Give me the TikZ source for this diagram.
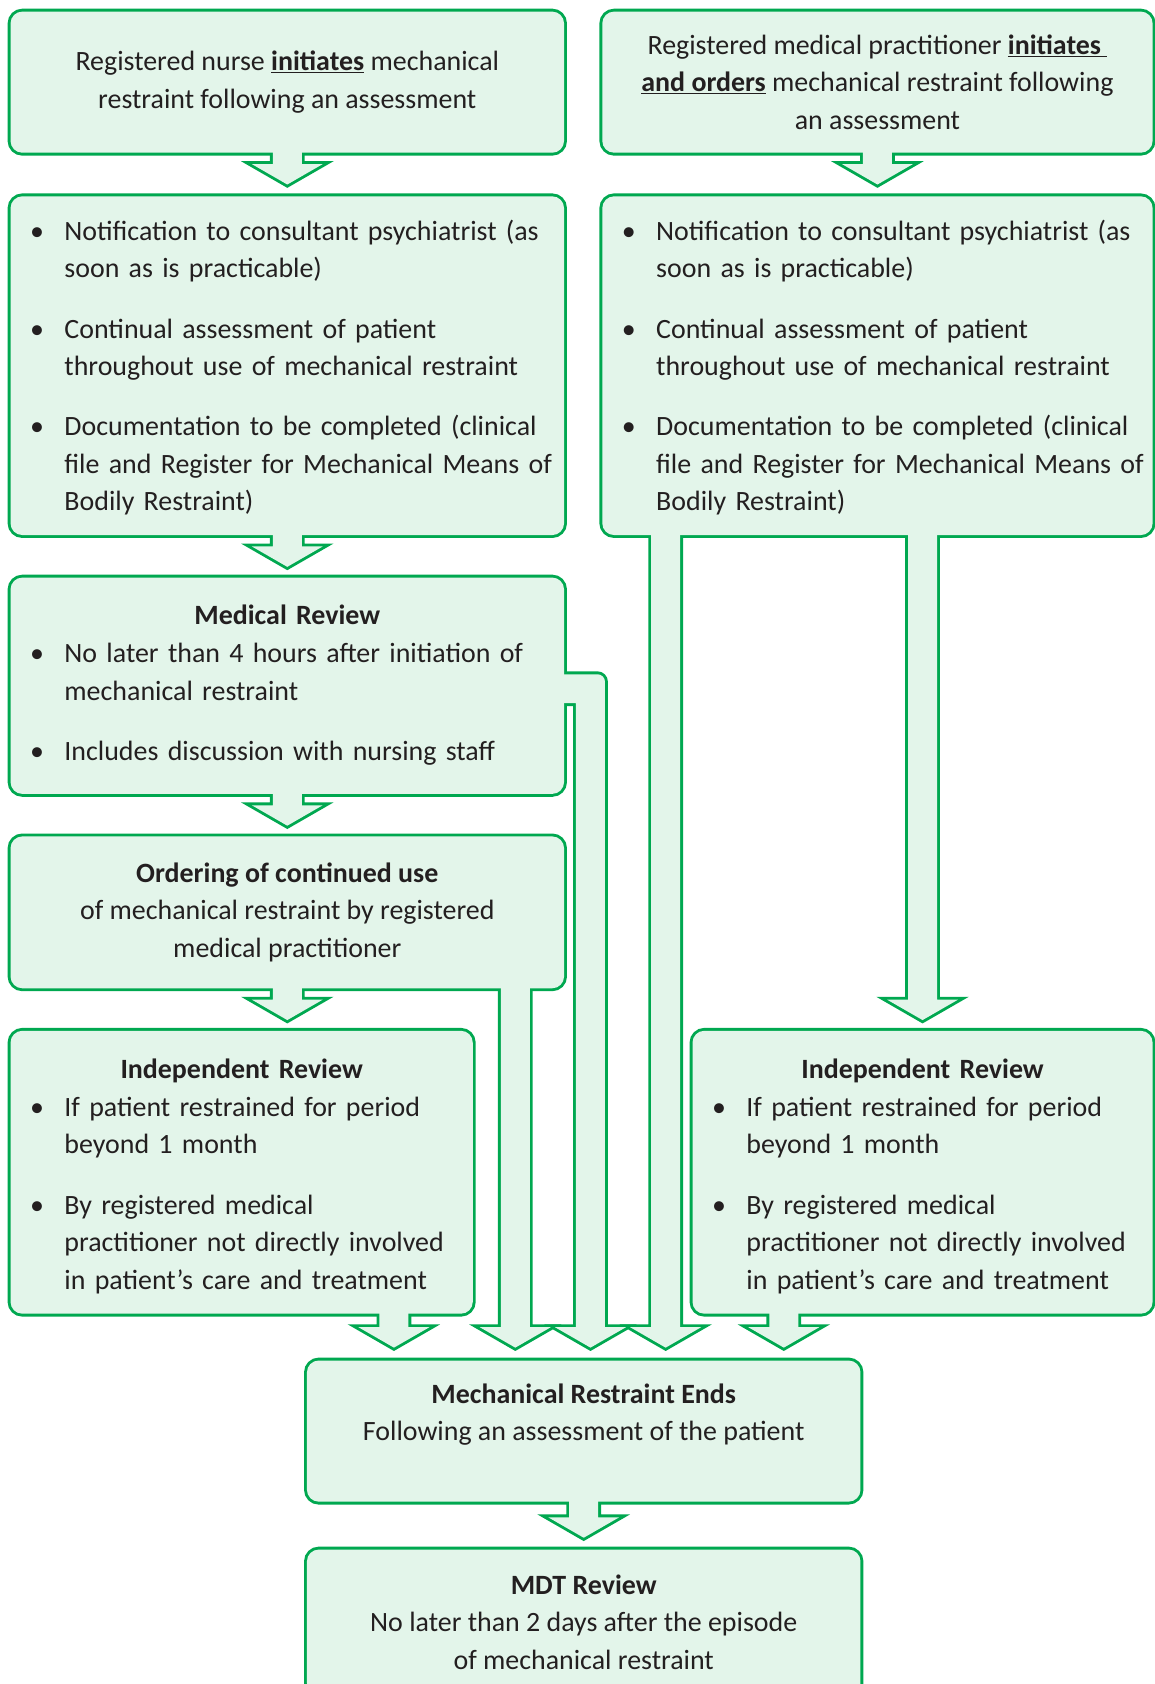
\documentclass[tikz,border=0pt]{standalone}
\usepackage{fontspec}
\setmainfont{Carlito}
\usetikzlibrary{calc}

\definecolor{boxline}{RGB}{0,168,80}
\definecolor{boxfill}{RGB}{227,245,234}
\definecolor{inktext}{RGB}{35,31,32}

\pgfdeclarelayer{edge}
\pgfdeclarelayer{paint}
\pgfsetlayers{edge,paint,main}

% outline on the back layer, fill above it: touching parts merge
\newcommand{\flowpart}[1]{%
  \begin{pgfonlayer}{edge}\draw[line width=5.4pt,boxline] #1;\end{pgfonlayer}%
  \begin{pgfonlayer}{paint}\fill[boxfill] #1;\end{pgfonlayer}}
% block arrow: #1 top of stem, #2 tip
\newcommand{\flowdown}[2]{%
  \flowpart{let \p1=#1, \p2=#2 in
    (\x2-13.5pt,\y1) -- (\x2-13.5pt,\y2+19pt) -- (\x2-33pt,\y2+19pt) -- (\x2,\y2)
    -- (\x2+33pt,\y2+19pt) -- (\x2+13.5pt,\y2+19pt) -- (\x2+13.5pt,\y1) -- cycle}}
% bullet point, lines split by \\
\newcommand{\bitem}[1]{\par\noindent\hbox to 44pt{\hspace{12pt}\textbullet\hss}%
  \begin{tabular}[t]{@{}l@{}}#1\end{tabular}\par}
\newcommand{\bgap}{\vspace{20pt}}

\begin{document}
\begin{tikzpicture}[x=1pt,y=-1pt,
  flowbox/.style={inner sep=0pt,text=inktext,align=center,
    font=\fontsize{26}{35}\selectfont},
  listbox/.style={flowbox,align=left,inner xsep=6pt}]
\useasboundingbox (0,0) rectangle (1075,1568);

% top row
\node[flowbox,minimum width=515pt,minimum height=131pt] (nurse) at (267.5,76.5)
  {Registered nurse \underline{\textbf{initiates}} mechanical\\
   restraint following an assessment};
\node[flowbox,minimum width=512pt,minimum height=131pt] (doctor) at (817,76.5)
  {Registered medical practitioner \underline{\textbf{initiates}\ }\\
   \underline{\textbf{and orders}} mechanical restraint following\\
   an assessment};

% notification boxes
\node[listbox,text width=503pt,minimum height=315pt] (notifL) at (267.5,340.5)
  {\bitem{Notification to consultant psychiatrist (as\\ soon as is practicable)}
   \bgap\bitem{Continual assessment of patient\\ throughout use of mechanical restraint}
   \bgap\bitem{Documentation to be completed (clinical\\ file and Register for Mechanical Means of\\ Bodily Restraint)}
   \vspace{6pt}};
\node[listbox,text width=500pt,minimum height=315pt] (notifR) at (817,340.5)
  {\bitem{Notification to consultant psychiatrist (as\\ soon as is practicable)}
   \bgap\bitem{Continual assessment of patient\\ throughout use of mechanical restraint}
   \bgap\bitem{Documentation to be completed (clinical\\ file and Register for Mechanical Means of\\ Bodily Restraint)}
   \vspace{6pt}};

% left column
\node[listbox,text width=503pt,minimum height=201pt] (medrev) at (267.5,638.5)
  {\centerline{\textbf{Medical Review}}
   \bitem{No later than 4 hours after initiation of\\ mechanical restraint}
   \bgap\bitem{Includes discussion with nursing staff}
   \vspace{-5pt}};
\node[flowbox,minimum width=515pt,minimum height=141pt] (ordering) at (267.5,849.5)
  {\textbf{Ordering of continued use}\\
   of mechanical restraint by registered\\
   medical practitioner};
\node[listbox,text width=418pt,minimum height=263pt] (indrevL) at (225,1091.5)
  {\centerline{\textbf{Independent Review}}
   \bitem{If patient restrained for period\\ beyond 1 month}
   \bgap\bitem{By registered medical\\ practitioner not directly involved\\ in patient’s care and treatment}
   \vspace{-14pt}};
\node[listbox,text width=416pt,minimum height=263pt] (indrevR) at (859,1091.5)
  {\centerline{\textbf{Independent Review}}
   \bitem{If patient restrained for period\\ beyond 1 month}
   \bgap\bitem{By registered medical\\ practitioner not directly involved\\ in patient’s care and treatment}
   \vspace{-14pt}};

% bottom
\node[flowbox,minimum width=515pt,minimum height=131pt] (ends) at (543.5,1332.5)
  {\textbf{Mechanical Restraint Ends}\\
   Following an assessment of the patient\\ \mbox{}};
\node[flowbox,minimum width=515pt,minimum height=135pt] (mdt) at (543.5,1510.5)
  {\textbf{MDT Review}\\
   No later than 2 days after the episode\\
   of mechanical restraint};

\foreach \bx in {nurse,doctor,notifL,notifR,medrev,ordering,indrevL,indrevR,ends,mdt}
  {\flowpart{[rounded corners=11pt] (\bx.south west) rectangle (\bx.north east)}}

% arrow tips on top of the end box
\coordinate (tipL) at ($(ends.north west)+(81,-12)$);
\coordinate (tipO) at ($(ends.north west)+(194,-12)$);
\coordinate (tipM) at ($(ends.north west)+(264,-12)$);
\coordinate (tipN) at ($(ends.north west)+(334,-12)$);
\coordinate (tipR) at ($(ends.north west)+(444,-12)$);

\flowdown{($(nurse.south)+(0,-6)$)}{($(notifL.north)+(0,-11)$)}
\flowdown{($(doctor.south)+(0,-6)$)}{($(notifR.north)+(0,-11)$)}
\flowdown{($(notifL.south)+(0,-6)$)}{($(medrev.north)+(0,-10)$)}
\flowdown{($(medrev.south)+(0,-6)$)}{($(ordering.north)+(0,-10)$)}
\flowdown{($(ordering.south)+(0,-6)$)}{($(ordering.south |- indrevL.north)+(0,-10)$)}
\flowdown{($(indrevR.north |- notifR.south)+(0,-6)$)}{($(indrevR.north)+(0,-10)$)}
\flowdown{($(tipL |- indrevL.south)+(0,-6)$)}{(tipL)}
\flowdown{($(tipO |- ordering.south)+(0,-6)$)}{(tipO)}
\flowdown{($(tipN |- notifR.south)+(0,-6)$)}{(tipN)}
\flowdown{($(tipR |- indrevR.south)+(0,-6)$)}{(tipR)}
\flowdown{($(ends.south)+(0,-6)$)}{($(mdt.north)+(0,-11)$)}

% medical review leaves from its right side
\coordinate (mrTop) at ($(medrev.north east)+(0,90)$);
\coordinate (mrBot) at ($(medrev.north east)+(0,117)$);
\flowpart{let \p1=(mrTop), \p2=(mrBot), \p3=(tipM) in
  (\x1-10pt,\y1) -- (\x3+6.5pt,\y1) arc (90:0:7pt) -- (\x3+13.5pt,\y3+19pt)
  -- (\x3+33pt,\y3+19pt) -- (\x3,\y3) -- (\x3-33pt,\y3+19pt)
  -- (\x3-13.5pt,\y3+19pt) -- (\x3-13.5pt,\y2) -- (\x1-10pt,\y2) -- cycle}
\end{tikzpicture}
\end{document}
